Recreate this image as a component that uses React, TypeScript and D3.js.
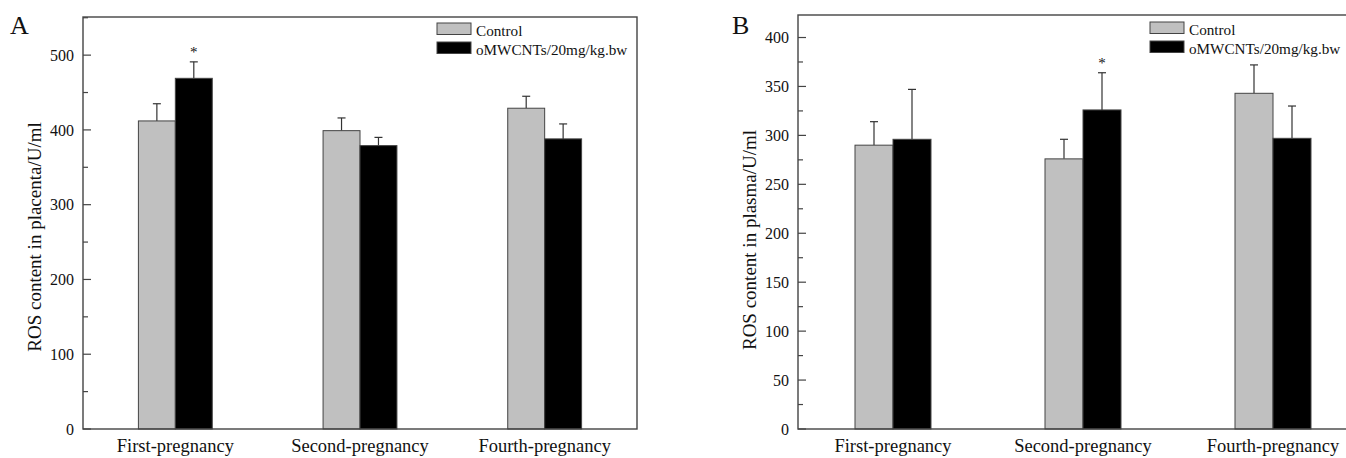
import React from "react";
import { scaleBand, scaleLinear } from "d3";

const categories = ["First-pregnancy", "Second-pregnancy", "Fourth-pregnancy"];
const seriesNames = ["Control", "oMWCNTs/20mg/kg.bw"];

const placentaControl = [412, 399, 429];
const placentaControlErr = [23, 17, 16];
const placentaTreated = [469, 379, 388];
const placentaTreatedErr = [22, 11, 20];
const placentaStars = [false, true, false, false, false, false];
const placentaTicks = [0, 100, 200, 300, 400, 500];

const plasmaControl = [290, 276, 343];
const plasmaControlErr = [24, 20, 29];
const plasmaTreated = [296, 326, 297];
const plasmaTreatedErr = [51, 38, 33];
const plasmaStars = [false, false, false, true, false, false];
const plasmaTicks = [0, 50, 100, 150, 200, 250, 300, 350, 400];

const FONT = "'Liberation Serif', 'Times New Roman', serif";
const FRAME = "#444";
const GRAY = "#c0c0c0";

type PanelProps = {
  letter: string;
  letterX: number;
  title: string;
  titleX: number;
  titleY: number;
  left: number;
  right: number;
  top: number;
  bottom: number;
  yMax: number;
  ticks: number[];
  minorStep: number;
  control: number[];
  controlErr: number[];
  treated: number[];
  treatedErr: number[];
  stars: boolean[];
  legendX: number;
  legendY: number;
};

const Panel = (p: PanelProps) => {
  const x = scaleBand<string>().domain(categories).range([p.left, p.right]);
  const sub = scaleBand<string>()
    .domain(seriesNames)
    .range([x.bandwidth() * 0.3, x.bandwidth() * 0.7]);
  const y = scaleLinear().domain([0, p.yMax]).range([p.bottom, p.top]);

  const minor: number[] = [];
  for (let v = p.minorStep; v < p.yMax; v += p.minorStep * 2) minor.push(v);

  const rows = categories.flatMap((c, i) => [
    { c, s: seriesNames[0], v: p.control[i], e: p.controlErr[i], fill: GRAY, star: p.stars[i * 2] },
    { c, s: seriesNames[1], v: p.treated[i], e: p.treatedErr[i], fill: "#000", star: p.stars[i * 2 + 1] },
  ]);

  return (
    <g fontFamily={FONT} fill="#111">
      <text x={p.letterX} y={34} fontSize={26}>
        {p.letter}
      </text>
      <text
        transform={`translate(${p.titleX},${p.titleY}) rotate(-90)`}
        textAnchor="middle"
        fontSize={19}
      >
        {p.title}
      </text>

      {rows.map((r, i) => {
        const bx = (x(r.c) ?? 0) + (sub(r.s) ?? 0);
        const w = sub.bandwidth();
        const cx = bx + w / 2;
        const top = y(r.v + r.e);
        return (
          <g key={i}>
            <line x1={cx} x2={cx} y1={y(r.v)} y2={top} stroke="#333" strokeWidth={1.2} />
            <line x1={cx - 4} x2={cx + 4} y1={top} y2={top} stroke="#333" strokeWidth={1.2} />
            <rect
              x={bx}
              y={y(r.v)}
              width={w}
              height={y(0) - y(r.v)}
              fill={r.fill}
              stroke={FRAME}
              strokeWidth={1}
            />
            {r.star && (
              <text x={cx} y={top - 5} textAnchor="middle" fontSize={15}>
                *
              </text>
            )}
          </g>
        );
      })}

      <rect
        x={p.left}
        y={p.top}
        width={p.right - p.left}
        height={p.bottom - p.top}
        fill="none"
        stroke={FRAME}
        strokeWidth={1.4}
      />

      {p.ticks.map((t) => (
        <g key={t}>
          <line x1={p.left} x2={p.left + 8} y1={y(t)} y2={y(t)} stroke={FRAME} strokeWidth={1.2} />
          <text x={p.left - 9} y={y(t)} dy="0.35em" textAnchor="end" fontSize={16}>
            {t}
          </text>
        </g>
      ))}
      {minor.map((t) => (
        <line key={t} x1={p.left} x2={p.left + 5} y1={y(t)} y2={y(t)} stroke={FRAME} strokeWidth={1.2} />
      ))}

      {categories.map((c) => (
        <text key={c} x={(x(c) ?? 0) + x.bandwidth() / 2} y={452} textAnchor="middle" fontSize={18.5}>
          {c}
        </text>
      ))}

      {seriesNames.map((s, i) => (
        <g key={s} transform={`translate(${p.legendX},${p.legendY + i * 19})`}>
          <rect width={34} height={11.5} fill={i === 0 ? GRAY : "#000"} stroke={FRAME} strokeWidth={1} />
          <text x={39} y={12.5} fontSize={15.2}>
            {s}
          </text>
        </g>
      ))}
    </g>
  );
};

export default function App() {
  return (
    <svg
      width={1346}
      height={458}
      style={{ position: "absolute", left: 0, top: 0, background: "#fff" }}
    >
      <rect width={1346} height={458} fill="#fff" />
      <Panel
        letter="A"
        letterX={10}
        title="ROS content in placenta/U/ml"
        titleX={41}
        titleY={237}
        left={83}
        right={637}
        top={17}
        bottom={429}
        yMax={551}
        ticks={placentaTicks}
        minorStep={50}
        control={placentaControl}
        controlErr={placentaControlErr}
        treated={placentaTreated}
        treatedErr={placentaTreatedErr}
        stars={placentaStars}
        legendX={437}
        legendY={23}
      />
      <Panel
        letter="B"
        letterX={732}
        title="ROS content in plasma/U/ml"
        titleX={756}
        titleY={240}
        left={798}
        right={1368}
        top={15}
        bottom={429}
        yMax={423}
        ticks={plasmaTicks}
        minorStep={25}
        control={plasmaControl}
        controlErr={plasmaControlErr}
        treated={plasmaTreated}
        treatedErr={plasmaTreatedErr}
        stars={plasmaStars}
        legendX={1150}
        legendY={22}
      />
    </svg>
  );
}
